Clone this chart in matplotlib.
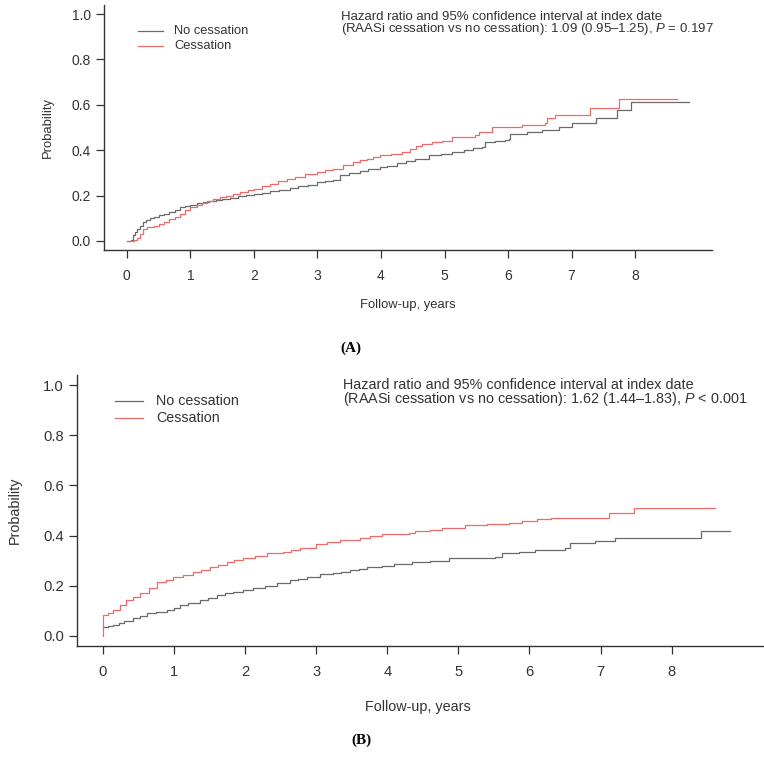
import numpy as np
import matplotlib
matplotlib.use("Agg")
import matplotlib.pyplot as plt
from matplotlib.lines import Line2D

plt.rcParams['font.family'] = ['Liberation Sans', 'DejaVu Sans']
plt.rcParams['mathtext.fontset'] = 'custom'
plt.rcParams['mathtext.it'] = 'Liberation Sans:italic'
plt.rcParams['mathtext.rm'] = 'Liberation Sans'

# ---- panel A : step points (years, cumulative probability)
a_none_t = [0, 0.07, 0.1, 0.13, 0.16, 0.2, 0.25, 0.3, 0.36, 0.42, 0.5, 0.58, 0.66, 0.75,
            0.83, 0.92, 1.0, 1.1, 1.2, 1.3, 1.4, 1.5, 1.62, 1.75, 1.88, 2.0, 2.12, 2.25,
            2.4, 2.57, 2.7, 2.85, 2.99, 3.12, 3.25, 3.35, 3.5, 3.67, 3.8, 3.98, 4.1, 4.25,
            4.4, 4.54, 4.76, 4.95, 5.12, 5.3, 5.45, 5.59, 5.64, 5.8, 5.95, 6.01, 6.03, 6.3,
            6.54, 6.80, 7.0, 7.39, 7.72, 7.94, 8.85]
a_none_p = [0, 0.005, 0.025, 0.04, 0.053, 0.068, 0.082, 0.093, 0.1, 0.105, 0.113, 0.12,
            0.128, 0.138, 0.148, 0.155, 0.16, 0.165, 0.17, 0.175, 0.18, 0.185, 0.19, 0.196,
            0.202, 0.208, 0.213, 0.219, 0.226, 0.234, 0.24, 0.248, 0.258, 0.265, 0.27, 0.29,
            0.3, 0.31, 0.318, 0.327, 0.33, 0.342, 0.352, 0.363, 0.377, 0.383, 0.393, 0.4,
            0.408, 0.415, 0.434, 0.44, 0.445, 0.451, 0.473, 0.482, 0.491, 0.504, 0.522,
            0.544, 0.575, 0.611, 0.611]
a_stop_t = [0, 0.12, 0.16, 0.2, 0.26, 0.32, 0.42, 0.5, 0.58, 0.66, 0.75, 0.83, 0.92, 1.0,
            1.1, 1.18, 1.26, 1.36, 1.46, 1.56, 1.67, 1.78, 1.9, 2.0, 2.12, 2.25, 2.38, 2.52,
            2.65, 2.8, 2.99, 3.12, 3.25, 3.4, 3.56, 3.67, 3.78, 3.88, 3.98, 4.15, 4.33, 4.45,
            4.55, 4.65, 4.8, 4.96, 5.12, 5.48, 5.54, 5.75, 6.22, 6.58, 6.61, 6.74, 7.29,
            7.75, 8.66]
a_stop_p = [0, 0.005, 0.013, 0.03, 0.053, 0.06, 0.066, 0.075, 0.085, 0.097, 0.105, 0.12,
            0.135, 0.15, 0.16, 0.168, 0.177, 0.185, 0.193, 0.2, 0.208, 0.215, 0.223, 0.23,
            0.24, 0.25, 0.262, 0.274, 0.283, 0.293, 0.305, 0.312, 0.319, 0.333, 0.35, 0.356,
            0.363, 0.37, 0.377, 0.385, 0.393, 0.405, 0.418, 0.429, 0.435, 0.442, 0.456,
            0.465, 0.482, 0.504, 0.509, 0.518, 0.54, 0.553, 0.584, 0.624, 0.624]

# ---- panel B
b_none_t = [0, 0.07, 0.14, 0.22, 0.3, 0.42, 0.52, 0.62, 0.75, 0.9, 1.0, 1.08, 1.2, 1.36,
            1.48, 1.6, 1.72, 1.83, 1.97, 2.11, 2.28, 2.45, 2.63, 2.75, 2.87, 3.05, 3.24,
            3.35, 3.47, 3.6, 3.71, 3.92, 4.1, 4.35, 4.6, 4.87, 5.2, 5.51, 5.61, 5.85, 6.08,
            6.5, 6.57, 6.92, 7.2, 8.41, 8.82]
b_none_p = [0.035, 0.04, 0.044, 0.05, 0.058, 0.071, 0.08, 0.09, 0.097, 0.103, 0.11, 0.123,
            0.132, 0.143, 0.153, 0.163, 0.17, 0.175, 0.182, 0.19, 0.2, 0.21, 0.222, 0.228,
            0.234, 0.246, 0.25, 0.256, 0.262, 0.268, 0.274, 0.278, 0.285, 0.294, 0.3, 0.309,
            0.311, 0.313, 0.329, 0.335, 0.341, 0.349, 0.369, 0.377, 0.389, 0.417, 0.417]
b_stop_t = [0, 0.0, 0.07, 0.14, 0.24, 0.33, 0.42, 0.52, 0.64, 0.76, 0.88, 0.99, 1.13, 1.27,
            1.38, 1.5, 1.62, 1.74, 1.85, 1.97, 2.14, 2.31, 2.53, 2.65, 2.77, 3.0, 3.15, 3.33,
            3.61, 3.75, 3.92, 4.3, 4.39, 4.6, 4.77, 5.09, 5.4, 5.71, 5.89, 6.1, 6.31, 7.12,
            7.47, 8.61]
b_stop_p = [0, 0.083, 0.093, 0.103, 0.123, 0.143, 0.157, 0.17, 0.19, 0.214, 0.225, 0.234,
            0.244, 0.254, 0.264, 0.274, 0.284, 0.294, 0.302, 0.309, 0.319, 0.329, 0.333,
            0.341, 0.349, 0.365, 0.373, 0.381, 0.389, 0.397, 0.405, 0.409, 0.417, 0.423,
            0.429, 0.444, 0.448, 0.452, 0.46, 0.466, 0.472, 0.492, 0.508, 0.508]

labels = ["No cessation", "Cessation"]
hr_a = ("Hazard ratio and 95% confidence interval at index date\n"
        "(RAASi cessation vs no cessation): 1.09 (0.95\u20131.25), $P$ = 0.197")
hr_b = ("Hazard ratio and 95% confidence interval at index date\n"
        "(RAASi cessation vs no cessation): 1.62 (1.44\u20131.83), $P$ < 0.001")
xticks = list(range(9))
yticks = [0.0, 0.2, 0.4, 0.6, 0.8, 1.0]

GRAY = '#6a6a6a'
RED = '#ef6b6b'
INK = '#333333'

W, H = 764, 768
fig = plt.figure(figsize=(W / 100, H / 100), dpi=100)

def fx(px):
    return px / W

def fy(py):
    return 1 - py / H

def panel(box, xlim, t0, p0, t1, p1, fs_tick, fs_lab, ylab_x, xlab_y, xlab_x):
    l, t, r, b = box
    ax = fig.add_axes([fx(l), fy(b), fx(r) - fx(l), fy(t) - fy(b)])
    ax.step(t0, p0, where='post', color=GRAY, lw=0.9)
    ax.step(t1, p1, where='post', color=RED, lw=0.9)
    ax.set_xlim(*xlim)
    ax.set_ylim(-0.04, 1.04)
    ax.set_xticks(xticks)
    ax.set_yticks(yticks)
    ax.set_yticklabels(["%.1f" % v for v in yticks])
    for s in ['top', 'right']:
        ax.spines[s].set_visible(False)
    for s in ['left', 'bottom']:
        ax.spines[s].set_color(INK)
        ax.spines[s].set_linewidth(1.0)
    ax.tick_params(axis='both', colors=INK, length=5.5, width=0.9, labelsize=fs_tick)
    ax.tick_params(axis='x', pad=8)
    ax.tick_params(axis='y', pad=4)
    ax.set_xlabel("Follow-up, years", fontsize=fs_lab, color=INK, va='center')
    ax.set_ylabel("Probability", fontsize=fs_lab, color=INK, va='center')
    w, h = r - l, b - t
    ax.xaxis.set_label_coords((xlab_x - l) / w, -(xlab_y - b) / h)
    ax.yaxis.set_label_coords((ylab_x - l) / w, 0.5)
    return ax

axA = panel((104, 5, 712, 250), (-0.36, 9.21), a_none_t, a_none_p, a_stop_t, a_stop_p,
            10, 9.4, 48, 305, 408)
axB = panel((77, 375, 764, 646), (-0.366, 9.3), b_none_t, b_none_p, b_stop_t, b_stop_p,
            10.6, 10.4, 15, 707, 418)

# legends
def legend(x0, x1, xt, y0, dy, fs):
    for i, (lab, c) in enumerate(zip(labels, [GRAY, RED])):
        y = y0 + i * dy
        fig.add_artist(Line2D([fx(x0), fx(x1)], [fy(y), fy(y)], color=c, lw=0.9,
                              transform=fig.transFigure))
        fig.text(fx(xt), fy(y), lab, fontsize=fs, color=INK, va='center', ha='left')

legend(138, 163, 174, 31, 15, 9.3)
legend(115, 143, 156, 401, 17, 10.3)

# hazard ratio annotations
fig.text(fx(341), fy(24), hr_a, fontsize=9.5, color=INK, va='center', ha='left',
         linespacing=0.8)
fig.text(fx(343), fy(393), hr_b, fontsize=10.4, color=INK, va='center', ha='left',
         linespacing=0.85)

# panel tags
fig.text(fx(351), fy(348), "(A)", fontsize=11, fontweight='bold', family='Liberation Serif',
         ha='center', va='center', color='black')
fig.text(fx(361), fy(740), "(B)", fontsize=11, fontweight='bold', family='Liberation Serif',
         ha='center', va='center', color='black')

fig.savefig("out.png", dpi=100)
